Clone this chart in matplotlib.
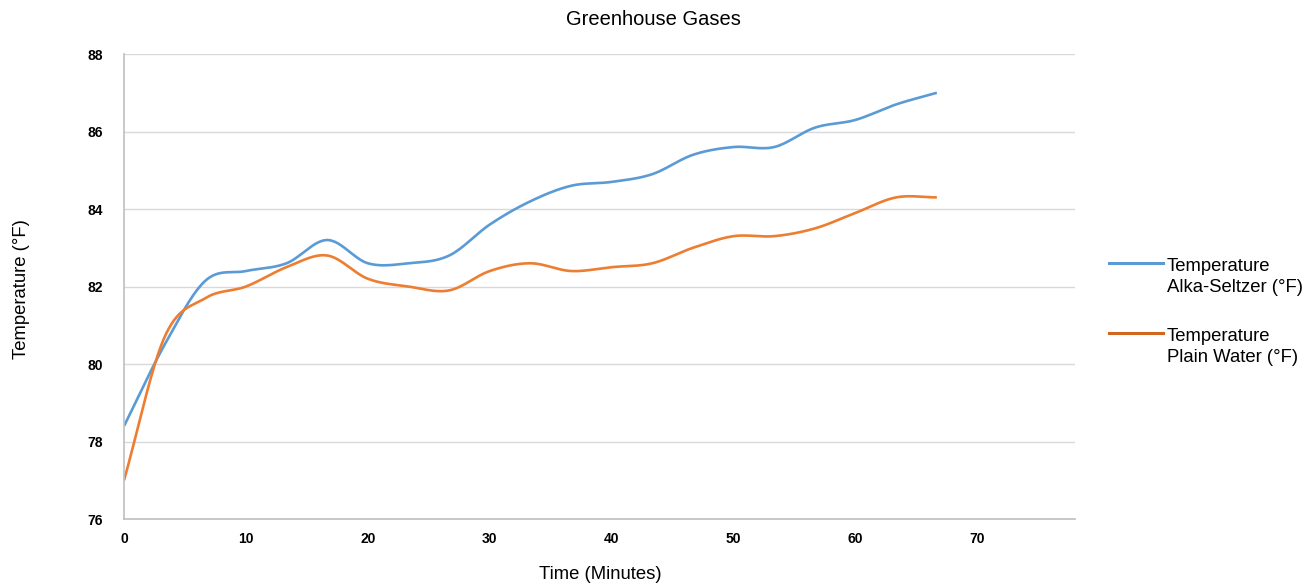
import numpy as np
import matplotlib
matplotlib.use("Agg")
import matplotlib.pyplot as plt
from matplotlib.lines import Line2D

plt.rcParams['font.family'] = ['Liberation Sans', 'DejaVu Sans']

# readings every 3 1/3 minutes
minutes = [0, 3.33, 6.67, 10, 13.33, 16.67, 20, 23.33, 26.67, 30, 33.33,
           36.67, 40, 43.33, 46.67, 50, 53.33, 56.67, 60, 63.33, 66.67]
temp_alka = [78.4, 80.5, 82.15, 82.4, 82.6, 83.2, 82.6, 82.6, 82.8, 83.6, 84.2,
             84.6, 84.7, 84.9, 85.4, 85.6, 85.6, 86.1, 86.3, 86.7, 87.0]
temp_water = [77.0, 80.7, 81.7, 82.0, 82.5, 82.8, 82.2, 82.0, 81.9, 82.4, 82.6,
              82.4, 82.5, 82.6, 83.0, 83.3, 83.3, 83.5, 83.9, 84.3, 84.3]
x_ticks = [0, 10, 20, 30, 40, 50, 60, 70]
y_ticks = [76, 78, 80, 82, 84, 86, 88]
labels = ["Temperature\nAlka-Seltzer (°F)", "Temperature\nPlain Water (°F)"]


def smooth(x, y, n=30):
    # catmull-rom curve through the points, like excel's "smoothed line"
    x = np.asarray(x, float)
    y = np.asarray(y, float)
    px = np.concatenate([[2 * x[0] - x[1]], x, [2 * x[-1] - x[-2]]])
    py = np.concatenate([[2 * y[0] - y[1]], y, [2 * y[-1] - y[-2]]])
    xs, ys = [], []
    t = np.linspace(0, 1, n, endpoint=False)
    for i in range(1, len(px) - 2):
        for p, out in ((px, xs), (py, ys)):
            p0, p1, p2, p3 = p[i - 1], p[i], p[i + 1], p[i + 2]
            out.append(0.5 * (2 * p1 + (-p0 + p2) * t
                              + (2 * p0 - 5 * p1 + 4 * p2 - p3) * t ** 2
                              + (-p0 + 3 * p1 - 3 * p2 + p3) * t ** 3))
    xs.append([x[-1]])
    ys.append([y[-1]])
    return np.concatenate(xs), np.concatenate(ys)


blue = "#5B9BD5"
orange = "#ED7D31"

fig = plt.figure(figsize=(13.14, 5.86), dpi=100)
ax = fig.add_axes([0.0944, 0.1143, 0.7237, 0.7935])

sx, sy = smooth(minutes, temp_alka)
ax.plot(sx, sy, color=blue, lw=1.9, solid_capstyle='butt')
sx, sy = smooth(minutes, temp_water)
ax.plot(sx, sy, color=orange, lw=1.9, solid_capstyle='butt')

ax.set_xlim(0, 78)
ax.set_ylim(76, 88)
ax.set_xticks(x_ticks)
ax.set_yticks(y_ticks)
ax.grid(axis='y', color='#d9d9d9', lw=1)
ax.set_axisbelow(True)
for s in ['top', 'right']:
    ax.spines[s].set_visible(False)
for s in ['left', 'bottom']:
    ax.spines[s].set_color('#bfbfbf')
    ax.spines[s].set_linewidth(1.2)
ax.tick_params(length=0, labelsize=10)
ax.tick_params(axis='y', pad=15)
ax.tick_params(axis='x', pad=9)
for lab in ax.get_xticklabels() + ax.get_yticklabels():
    lab.set_fontweight('bold')

fig.text(0.497, 0.966, "Greenhouse Gases", ha='center', va='center', fontsize=14.5)
fig.text(0.457, 0.019, "Time (Minutes)", ha='center', va='center', fontsize=13.3)
fig.text(0.0167, 0.507, "Temperature (°F)", ha='center', va='center',
         rotation=90, fontsize=13.3)

# legend drawn by hand: handle sits on the first text line
for i, (lab, col) in enumerate(zip(labels, [blue, "#D0661F"])):
    yl = 1 - (263 + 70 * i) / 586
    fig.add_artist(Line2D([1109 / 1314, 1163 / 1314], [yl, yl], color=col, lw=2.2))
    fig.text(1167 / 1314, yl + 0.008, lab, ha='left', va='top', fontsize=13.3,
             linespacing=1.25)

fig.savefig("out.png", dpi=100)
